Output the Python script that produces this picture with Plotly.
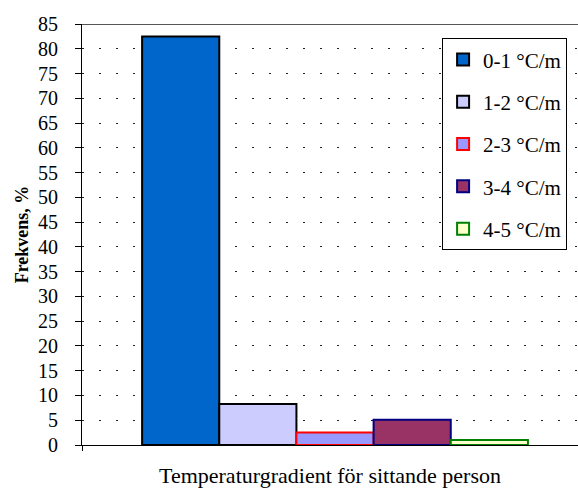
import plotly.graph_objects as go

# Frequency of vertical temperature gradient classes for a seated person
classes = ["0-1 °C/m", "1-2 °C/m", "2-3 °C/m", "3-4 °C/m", "4-5 °C/m"]
frequency = [82.5, 8.3, 2.5, 5.1, 1.0]
positions = [0, 1, 2, 3, 4]

fill_colors = ["#0066CC", "#CCCCFF", "#9999FF", "#993366", "#FFFFCC"]
edge_colors = ["#000000", "#000000", "#FF0000", "#000080", "#008000"]

y_ticks = list(range(0, 90, 5))

FONT = "Liberation Serif, Times New Roman, serif"

fig = go.Figure()
for name, val, pos, fc, ec in zip(classes, frequency, positions, fill_colors, edge_colors):
    fig.add_trace(go.Bar(
        x=[pos], y=[val], name=name, width=1.0,
        marker=dict(color=fc, line=dict(color=ec, width=2)),
        legendgroup=name,
    ))

x_left, x_right = -1.279, 5.149

fig.update_layout(
    width=578, height=488,
    margin=dict(l=82, r=0, t=24, b=43),
    paper_bgcolor="white", plot_bgcolor="white",
    font=dict(family=FONT, size=20, color="black"),
    showlegend=True,
    legend=dict(
        x=0.726, y=0.966, xanchor="left", yanchor="top",
        bordercolor="black", borderwidth=1, bgcolor="white",
        font=dict(family=FONT, size=21),
        tracegroupgap=12,
        itemwidth=30,
    ),
    xaxis=dict(
        range=[x_left, x_right], showgrid=False, zeroline=False,
        showline=True, linecolor="black", linewidth=1,
        tickvals=[x_left], ticktext=[""], ticks="outside", ticklen=5,
        tickcolor="black",
        title=dict(text="Temperaturgradient för sittande person",
                   font=dict(family=FONT, size=22), standoff=14),
    ),
    yaxis=dict(
        range=[0, 85], tickvals=y_ticks, showgrid=True,
        gridcolor="#222222", gridwidth=1, griddash="2px,15px",
        zeroline=False, showline=True, linecolor="black", linewidth=1,
        ticks="outside", ticklen=6, tickcolor="black",
        ticklabelstandoff=13,
        tickfont=dict(family=FONT, size=20),
        title=dict(text="<b>Frekvens, %</b>",
                   font=dict(family=FONT, size=18), standoff=4),
    ),
)

# dark boundary line along the top of the plotting area
fig.add_shape(type="line", xref="paper", yref="y", x0=0, x1=1, y0=85, y1=85,
              line=dict(color="#555555", width=2), layer="below")

fig.write_html("out.html")
